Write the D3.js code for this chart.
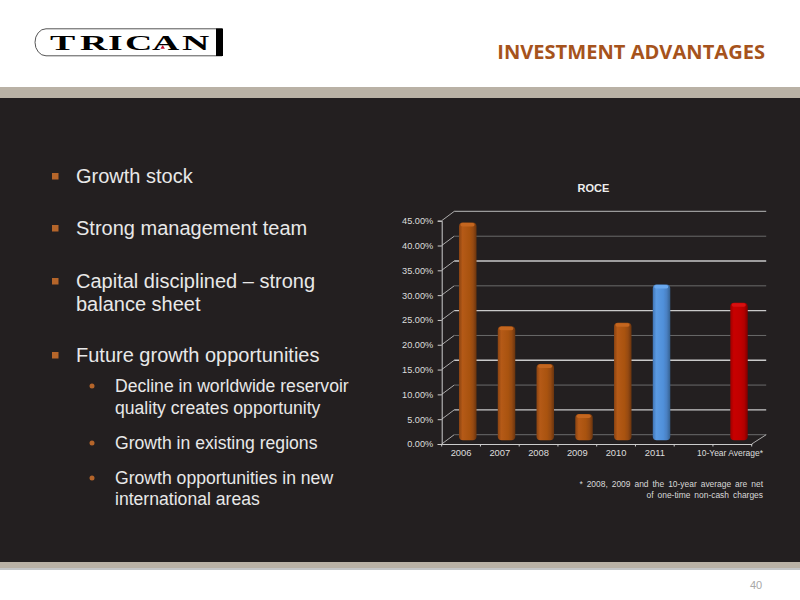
<!DOCTYPE html>
<html><head><meta charset="utf-8">
<script src="https://cdn.jsdelivr.net/npm/d3@7/dist/d3.min.js"></script>
<style>html,body{margin:0;padding:0;background:#fff}svg{display:block}text{font-family:"Liberation Sans",Arial,sans-serif}</style>
</head><body><svg id="c" width="800" height="600"></svg>
<script>
const categories=["2006","2007","2008","2009","2010","2011"," ","10-Year Average*"];
const roce=[43.3,22.4,14.8,4.7,23.1,30.8,null,27.1];
const barKinds=["o","o","o","o","o","b",null,"r"];
const yTicks=[0,5,10,15,20,25,30,35,40,45];
const gridStyles=["#6a6a6a","#c9c9c9","#6a6a6a","#c9c9c9","#6a6a6a","#c9c9c9","#6a6a6a","#c9c9c9","#6a6a6a","#9a9a9a"];
const bullets=[["Growth stock",183],["Strong management team",235],["Capital disciplined – strong",288],["balance sheet",311,1],["Future growth opportunities",362]];
const subBullets=[["Decline in worldwide reservoir",392],["quality creates opportunity",414,1],["Growth in existing regions",449],["Growth opportunities in new",484],["international areas",505,1]];

const svg=d3.select("#c");
const defs=svg.append("defs");
function grad(id,stops){const g=defs.append("linearGradient").attr("id",id);
  stops.forEach(([o,c])=>g.append("stop").attr("offset",o).attr("stop-color",c));}
grad("o",[[0,"#8a4312"],[.2,"#b55a17"],[.6,"#a9530f"],[.8,"#964a12"],[1,"#6a340e"]]);
grad("b",[[0,"#3f74b5"],[.2,"#5b9ae2"],[.6,"#5090da"],[.8,"#4a80c2"],[1,"#34608f"]]);
grad("r",[[0,"#9c0000"],[.2,"#c80000"],[.6,"#c00000"],[.8,"#b20000"],[1,"#7a0000"]]);

// page
svg.append("rect").attr("width",800).attr("height",600).attr("fill","#fff");
svg.append("rect").attr("y",87).attr("width",800).attr("height",11).attr("fill","#b9b1a5");
svg.append("rect").attr("y",98).attr("width",800).attr("height",464).attr("fill","#231f20");
svg.append("rect").attr("y",562).attr("width",800).attr("height",6).attr("fill","#b9b1a5");
svg.append("rect").attr("y",568).attr("width",800).attr("height",2).attr("fill","#c4c6c8");
svg.append("text").attr("x",765).attr("y",59).attr("text-anchor","end").attr("fill","#a6531c")
  .style("font-family","'Open Sans'").style("font-weight",700).style("font-size","20.1px").text("INVESTMENT ADVANTAGES");
svg.append("text").attr("x",750).attr("y",589).attr("fill","#a8a8a8").style("font-size","11px").text("40");

// logo
const logo=svg.append("g");
logo.append("path").attr("d","M222,28.8H46a11,13.5 0 0 0 0,27H222").attr("fill","#fff").attr("stroke","#555").attr("stroke-width",1);
logo.append("rect").attr("x",216).attr("y",28.5).attr("width",7).attr("height",27.5).attr("fill","#000");
const logoX=[50,80,108,125,152,182];
logo.append("g").attr("transform","scale(1.8,1)").append("text").attr("y",50).attr("x",logoX.map(v=>v/1.8).join(" "))
  .style("font-family","'Liberation Serif'").style("font-weight",700).style("font-size","21px").attr("fill","#000").text("TRICAN");
logo.append("path").attr("d","M162.7,45l-2.2,3.8h4.4z").attr("fill","#c8102e");

// left text
const T=svg.append("g");
T.selectAll(".b").data(bullets).join("text").attr("x",76).attr("y",d=>d[1]).attr("fill","#e8e8e8").style("font-size","20px").text(d=>d[0]);
T.selectAll(".bm").data(bullets.filter(d=>!d[2])).join("rect").attr("x",52).attr("y",d=>d[1]-10).attr("width",6.5).attr("height",6.5).attr("fill","#b5652a");
T.selectAll(".s").data(subBullets).join("text").attr("x",115).attr("y",d=>d[1]).attr("fill","#e8e8e8").style("font-size","17.6px").text(d=>d[0]);
T.selectAll(".sm").data(subBullets.filter(d=>!d[2])).join("circle").attr("cx",92).attr("cy",d=>d[1]-6).attr("r",2.5).attr("fill","#b5652a");

// chart
const x0=441.7,x1=751.7,y0=444,y45=220.7,dx=12.5,dy=-9.3;
const x=d3.scaleBand().domain(categories).range([x0,x1]);
const y=d3.scaleLinear().domain([0,45]).range([y0,y45]);
const g=svg.append("g");
g.append("text").attr("x",593.5).attr("y",192).attr("text-anchor","middle").attr("fill","#eee")
  .style("font-size","11px").style("font-weight",700).text("ROCE");

// walls
yTicks.forEach((t,i)=>{
  const c=gridStyles[i];
  g.append("line").attr("x1",x0).attr("x2",x0+dx).attr("y1",y(t)).attr("y2",y(t)+dy).attr("stroke","#bbb").attr("stroke-width",.9);
  g.append("line").attr("x1",x0+dx).attr("x2",x1+dx+2).attr("y1",y(t)+dy).attr("y2",y(t)+dy).attr("stroke",c).attr("stroke-width",i%2?1.3:1);
});
g.append("line").attr("x1",x1).attr("x2",x1+dx+2).attr("y1",y0).attr("y2",y0+dy).attr("stroke","#bbb").attr("stroke-width",.9);

// bars
const bw=17.5,off=6.7;
const bars=g.selectAll(".bar").data(categories.map((c,i)=>({c,v:roce[i],k:barKinds[i]})).filter(d=>d.v!=null)).join("g");
bars.each(function(d){
  const s=d3.select(this),cx=x(d.c)+x.bandwidth()/2+off,top=y(d.v)+dy/2,bot=y(0)+dy/2+1;
  s.append("rect").attr("x",cx-bw/2).attr("y",top-2).attr("width",bw).attr("height",bot-top+2).attr("rx",4)
   .attr("fill",`url(#${d.k})`);
  s.append("rect").attr("x",cx-bw/2+1.5).attr("y",top-1.5).attr("width",bw-3.5).attr("height",3.5).attr("rx",1.8)
   .attr("fill",d.k=="o"?"#c4661f":d.k=="b"?"#6aa8ee":"#d81010");
});

// axes
const ay=d3.axisLeft(y).tickValues(yTicks).tickSize(4).tickPadding(4.5).tickFormat(d=>d3.format(".2f")(d)+"%");
const gy=g.append("g").attr("transform",`translate(${x0},0)`).call(ay);
const ax=d3.axisBottom(x).tickSize(0).tickPadding(5);
const gx=g.append("g").attr("transform",`translate(0,${y0})`).call(ax);
[gy,gx].forEach(a=>{a.selectAll("path").attr("stroke","#ccc");a.selectAll("line").attr("stroke","#ccc");
  a.selectAll("text").attr("fill","#ddd").style("font-size","9.2px").style("font-family","'Liberation Sans'");});
gx.selectAll(".tick text").style("font-size","9.4px");
gx.selectAll(".bt").data(d3.range(categories.length+1)).join("line").attr("class","bt")
  .attr("x1",i=>x0+i*x.step()).attr("x2",i=>x0+i*x.step()).attr("y1",0).attr("y2",2.5).attr("stroke","#ccc");
gx.selectAll(".tick text").filter(d=>d.startsWith("10")).attr("dx",-2.3).attr("textLength",66).attr("lengthAdjust","spacingAndGlyphs");

// footnote
g.append("text").attr("x",763).attr("y",487).attr("text-anchor","end").attr("fill","#d8d8d8").style("font-size","8.45px").style("word-spacing","1.6px").text("*  2008, 2009 and the 10-year average are net");
g.append("text").attr("x",763).attr("y",498).attr("text-anchor","end").attr("fill","#d8d8d8").style("font-size","8.45px").style("word-spacing","1.6px").text("of one-time non-cash charges");
</script></body></html>
